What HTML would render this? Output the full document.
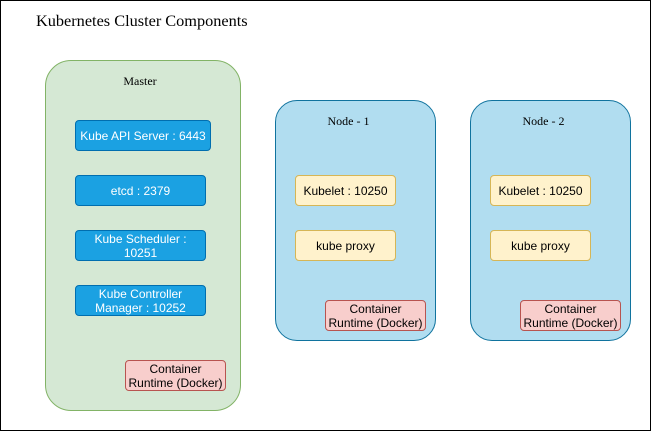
<!DOCTYPE html>
<html><head><meta charset="utf-8"><style>
*{margin:0;padding:0;box-sizing:border-box}
body{width:651px;height:431px;background:#fff;position:relative;overflow:hidden}
.frame{position:absolute;left:0;top:0;width:651px;height:431px;border:1px solid #000}
.b{position:absolute;display:flex;align-items:center;justify-content:center;text-align:center;font-family:"Liberation Sans",sans-serif;font-size:12px;line-height:14px}
.c{position:absolute;font-family:"Liberation Serif",serif;font-size:12px;text-align:center}
.blue{background:#1ba1e2;border:1px solid #006eaf;color:#fff;border-radius:4px}
.yel{background:#fff2cc;border:1px solid #d6b656;color:#000;border-radius:4px}
.red{background:#f8cecc;border:1px solid #b85450;color:#000;border-radius:4px}
</style></head><body>
<div class="frame"></div>
<div style="position:absolute;left:36px;top:11px;font-family:'Liberation Serif',serif;font-size:16.3px;color:#000">Kubernetes Cluster Components</div>

<div style="position:absolute;left:45px;top:60px;width:196px;height:351px;background:#d5e8d4;border:1px solid #82b366;border-radius:26px"></div>
<div class="c" style="left:42px;top:74px;width:196px">Master</div>
<div class="b blue" style="left:75px;top:120px;width:136px;height:31px">Kube API Server : 6443</div>
<div class="b blue" style="left:75px;top:175px;width:131px;height:31px">etcd : 2379</div>
<div class="b blue" style="left:75px;top:230px;width:131px;height:31px">Kube Scheduler :<br>10251</div>
<div class="b blue" style="left:75px;top:285px;width:131px;height:31px">Kube Controller<br>Manager : 10252</div>
<div class="b red" style="left:125px;top:360px;width:101px;height:31px">Container<br>Runtime (Docker)</div>

<div style="position:absolute;left:275px;top:100px;width:161px;height:241px;background:#b1ddf0;border:1px solid #10739e;border-radius:22px"></div>
<div class="c" style="left:268px;top:114px;width:161px">Node - 1</div>
<div class="b yel" style="left:295px;top:175px;width:101px;height:31px">Kubelet : 10250</div>
<div class="b yel" style="left:295px;top:230px;width:101px;height:31px">kube proxy</div>
<div class="b red" style="left:325px;top:300px;width:101px;height:31px">Container<br>Runtime (Docker)</div>

<div style="position:absolute;left:470px;top:100px;width:161px;height:241px;background:#b1ddf0;border:1px solid #10739e;border-radius:22px"></div>
<div class="c" style="left:463px;top:114px;width:161px">Node - 2</div>
<div class="b yel" style="left:490px;top:175px;width:101px;height:31px">Kubelet : 10250</div>
<div class="b yel" style="left:490px;top:230px;width:101px;height:31px">kube proxy</div>
<div class="b red" style="left:520px;top:300px;width:101px;height:31px">Container<br>Runtime (Docker)</div>
</body></html>
